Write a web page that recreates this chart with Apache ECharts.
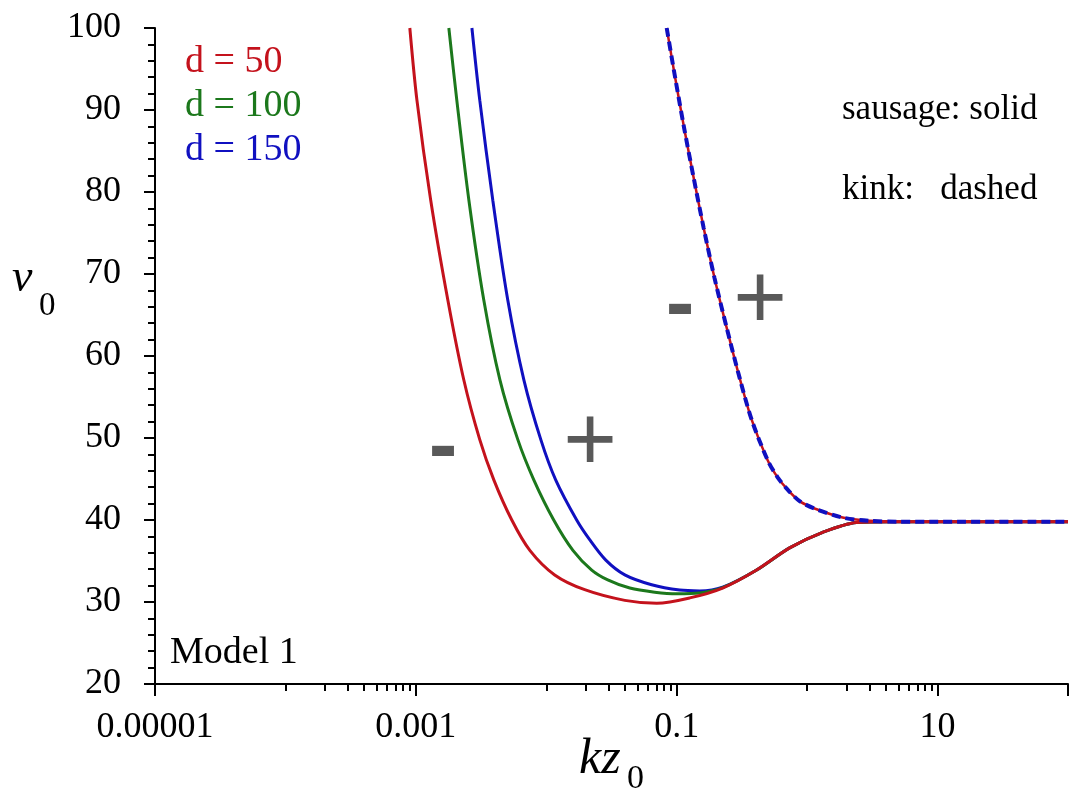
<!DOCTYPE html>
<html><head><meta charset="utf-8">
<script src="https://cdn.jsdelivr.net/npm/echarts@6/dist/echarts.min.js"></script>
<style>html,body{margin:0;padding:0;background:#fff}#c{width:1070px;height:793px}</style>
</head><body><div id="c"></div>
<script>
// x tick values / labels
const xMajorTicks = [1e-5, 1e-3, 0.1, 10, 100];
const xLabelValues = [1e-5, 1e-3, 0.1, 10];
const xLabelTexts = ['0.00001', '0.001', '0.1', '10'];
const xMinorTicks = [1e-4, 2e-4, 3e-4, 4e-4, 5e-4, 6e-4, 7e-4, 8e-4, 9e-4,
                     0.01, 0.02, 0.03, 0.04, 0.05, 0.06, 0.07, 0.08, 0.09,
                     1, 2, 3, 4, 5, 6, 7, 8, 9];
// sausage modes (solid)
const sausageD50 = [[8.99e-4,100],[1.019e-3,91.2],[1.30e-3,79.0],[1.76e-3,66.8],[2.33e-3,57.1],[3.09e-3,49.8],
  [3.96e-3,44.9],[5.44e-3,40.0],[7.48e-3,36.3],[1.16e-2,33.3],[1.97e-2,31.5],[4.00e-2,30.2],[0.0703,29.85],
  [0.126,30.5],[0.225,31.7],[0.410,33.9],[0.734,36.6],[1.315,38.5],[2.39,39.7],[4.29,39.8],[10,39.8],[100,39.8]];
const sausageD100 = [[1.79e-3,100],[2.06e-3,91.2],[2.55e-3,79.0],[3.32e-3,66.8],[4.41e-3,57.1],[6.05e-3,49.8],
  [8.02e-3,44.9],[1.14e-2,40.0],[1.60e-2,36.3],[2.23e-2,33.9],[2.96e-2,32.7],[4.37e-2,31.7],[6.78e-2,31.2],
  [0.100,31.0],[0.150,31.1],[0.225,31.75],[0.410,33.9],[0.734,36.6],[1.315,38.5],[2.39,39.7],[4.29,39.8],[10,39.8],[100,39.8]];
const sausageD150 = [[2.69e-3,100],[3.09e-3,91.2],[3.89e-3,79.0],[5.07e-3,66.8],[6.73e-3,57.1],[9.08e-3,49.8],
  [1.18e-2,44.9],[1.71e-2,40.0],[2.15e-2,37.6],[2.86e-2,35.1],[4.00e-2,33.3],[6.42e-2,32.1],[0.1054,31.45],
  [0.150,31.35],[0.225,31.8],[0.410,33.9],[0.734,36.6],[1.315,38.5],[2.39,39.7],[4.29,39.8],[10,39.8],[100,39.8]];
// kink modes (dashed), identical for all d
const kinkAll = [[0.0838,100],[0.0974,93.9],[0.114,87.8],[0.135,81.7],[0.161,75.6],[0.195,69.5],[0.242,63.4],
  [0.304,57.3],[0.376,52.2],[0.498,47.3],[0.594,45.2],[0.709,43.7],[0.876,42.3],[1.14,41.4],[1.87,40.3],
  [3.01,39.9],[5,39.8],[10,39.8],[100,39.8]];

const RED = '#C4121C', GREEN = '#1C781C', BLUE = '#1010C0', GRAY = '#595959';
const SERIF = '"Liberation Serif","Times New Roman",serif';

const chart = echarts.init(document.getElementById('c'), null, {renderer: 'canvas'});
function xLabel(v) {
  for (let i = 0; i < xLabelValues.length; i++) {
    if (Math.abs(Math.log10(v) - Math.log10(xLabelValues[i])) < 1e-6) return xLabelTexts[i];
  }
  return '';
}
function line(name, data, color, width, type, z) {
  return {name, type: 'line', data, showSymbol: false, smooth: 0.3, z,
    lineStyle: {color, width, type}, itemStyle: {color}, animation: false};
}
const txt = (text, x, y, fs, fill, extra) => ({type: 'text', x, y, z: 100,
  style: Object.assign({text, fill, font: fs + 'px ' + SERIF, textAlign: 'left', textVerticalAlign: 'middle'}, extra || {})});
const sign = (text, x, y, fs, bold) => ({type: 'text', x, y, z: 100,
  style: {text, fill: GRAY, font: (bold ? 'bold ' : '') + fs + 'px "Liberation Sans",Arial,sans-serif', textAlign: 'center', textVerticalAlign: 'middle'}});

chart.setOption({
  animation: false,
  backgroundColor: '#fff',
  grid: {left: 155, right: 2, top: 28, bottom: 109, containLabel: false},
  xAxis: [{
    type: 'log', logBase: 10, min: 1e-5, max: 100,
    axisLine: {show: true, onZero: false, lineStyle: {color: '#000', width: 2}},
    axisTick: {show: true, customValues: xMajorTicks, length: 12, lineStyle: {color: '#000', width: 2}},
    axisLabel: {show: true, customValues: xLabelValues, formatter: xLabel, margin: 26,
      color: '#000', fontFamily: SERIF, fontSize: 36},
    splitLine: {show: false}, minorTick: {show: false}
  }, {
    type: 'log', logBase: 10, min: 1e-5, max: 100, position: 'bottom', gridIndex: 0,
    axisLine: {show: false},
    axisTick: {show: true, customValues: xMinorTicks, length: 7, lineStyle: {color: '#000', width: 2}},
    axisLabel: {show: false}, splitLine: {show: false}
  }],
  yAxis: {
    type: 'value', min: 20, max: 100, interval: 10,
    axisLine: {show: true, lineStyle: {color: '#000', width: 2}},
    axisTick: {show: true, length: 11, lineStyle: {color: '#000', width: 2}},
    minorTick: {show: true, splitNumber: 5, length: 7, lineStyle: {color: '#000', width: 2}},
    axisLabel: {color: '#000', fontFamily: SERIF, fontSize: 36, margin: 34},
    splitLine: {show: false}, minorSplitLine: {show: false}
  },
  series: [
    line('sausage d=50', sausageD50, RED, 3, 'solid', 5),
    line('sausage d=100', sausageD100, GREEN, 3, 'solid', 4),
    line('sausage d=150', sausageD150, BLUE, 3, 'solid', 3),
    line('kink d=50', kinkAll, RED, 2.5, 'solid', 6),
    line('kink d=150', kinkAll, BLUE, 4, [9, 5], 7)
  ],
  graphic: [
    txt('d = 50', 185, 62, 38, RED),
    txt('d = 100', 185, 106, 38, GREEN),
    txt('d = 150', 185, 150, 38, BLUE),
    txt('sausage: solid', 842, 110, 35, '#000'),
    txt('kink:   dashed', 842, 190, 35, '#000'),
    txt('Model 1', 170, 653, 38, '#000'),
    {type: 'text', x: 12, y: 279, z: 100, style: {text: 'v', fill: '#000', font: 'italic 46px ' + SERIF, textVerticalAlign: 'middle'}},
    txt('0', 39, 306, 33, '#000'),
    {type: 'text', x: 579, y: 760, z: 100, style: {text: 'kz', fill: '#000', font: 'italic 50px ' + SERIF, textVerticalAlign: 'middle'}},
    txt('0', 627, 779, 34, '#000'),
    sign('-', 443, 449, 86, true),
    sign('+', 590, 445, 92, false),
    sign('-', 680, 307, 86, true),
    sign('+', 760, 303, 92, false)
  ]
});
</script></body></html>
